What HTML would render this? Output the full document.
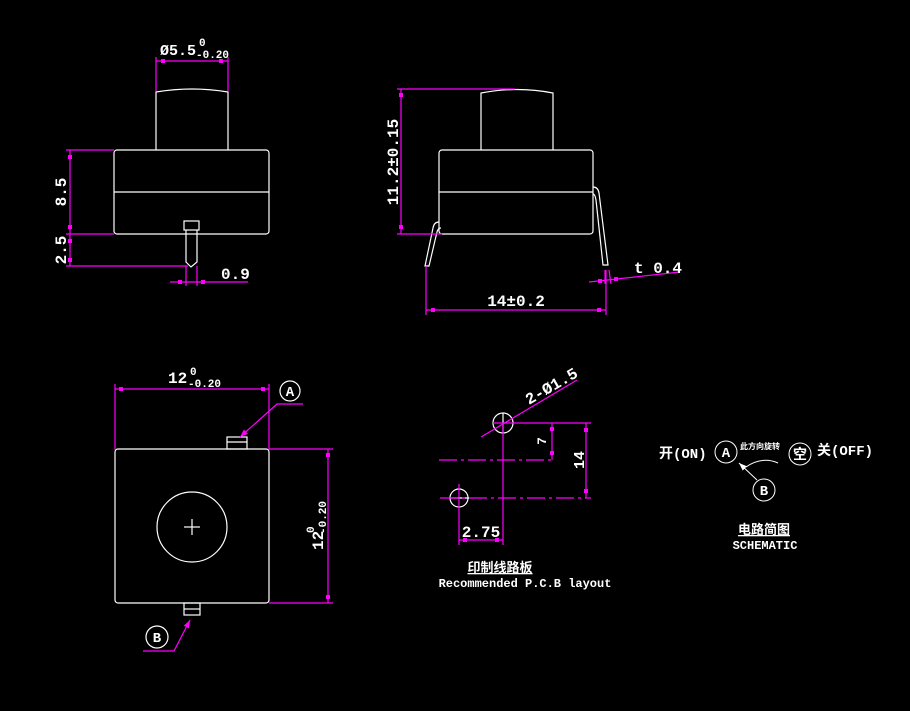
<!DOCTYPE html>
<html><head><meta charset="utf-8"><style>
html,body{margin:0;padding:0;background:#000;}
svg{display:block}
text{font-family:"Liberation Mono","Noto Sans CJK SC",monospace;fill:#fff;font-weight:bold;}
</style></head><body>
<svg width="910" height="711" viewBox="0 0 910 711" xmlns="http://www.w3.org/2000/svg">
<rect width="910" height="711" fill="#000"/>
<defs>
<marker id="ar" markerWidth="8" markerHeight="6" refX="8" refY="3" orient="auto" markerUnits="userSpaceOnUse"><path d="M0,0L8,3L0,6z" fill="#f0f"/></marker>
<marker id="aw" markerWidth="8" markerHeight="6" refX="8" refY="3" orient="auto" markerUnits="userSpaceOnUse"><path d="M0,0L8,3L0,6z" fill="#fff"/></marker>
</defs>

<!-- VIEW 1 -->
<g stroke="#fff" fill="none" stroke-width="1.2">
<path d="M156,150V92Q192,86 228,92V150"/>
<rect x="114" y="150" width="155" height="84" rx="3"/>
<line x1="114" y1="192" x2="269" y2="192"/>
<rect x="184" y="221" width="15" height="9"/>
<path d="M186,230V262L191,267L197,262V230"/>
</g>
<g stroke="#f0f" fill="none" stroke-width="1.2">
<line x1="156" y1="57" x2="156" y2="91"/><line x1="228" y1="57" x2="228" y2="91"/>
<line x1="156" y1="61" x2="228" y2="61"/>
<line x1="66" y1="150" x2="114" y2="150"/><line x1="66" y1="234" x2="114" y2="234"/><line x1="66" y1="266" x2="188" y2="266"/>
<line x1="70" y1="150" x2="70" y2="266"/>
<line x1="186" y1="266" x2="186" y2="286"/><line x1="197" y1="266" x2="197" y2="286"/>
<line x1="170" y1="282" x2="248" y2="282"/>
</g>
<g fill="#f0f"><rect x="161" y="59" width="4" height="4"/><rect x="219" y="59" width="4" height="4"/><rect x="68" y="155" width="4" height="4"/><rect x="68" y="225" width="4" height="4"/><rect x="68" y="239" width="4" height="4"/><rect x="68" y="258" width="4" height="4"/><rect x="178" y="280" width="4" height="4"/><rect x="201" y="280" width="4" height="4"/></g>
<text x="160" y="55" font-size="15">Ø5.5</text><text x="199" y="46" font-size="11">0</text><text x="196" y="58" font-size="11">-0.20</text>
<text transform="translate(66,192) rotate(-90)" font-size="16" text-anchor="middle">8.5</text>
<text transform="translate(66,250) rotate(-90)" font-size="16" text-anchor="middle">2.5</text>
<text x="221" y="279" font-size="16">0.9</text>

<!-- VIEW 2 -->
<g stroke="#fff" fill="none" stroke-width="1.2">
<path d="M481,150V93Q517,86 553,93V150"/>
<rect x="439" y="150" width="154" height="84" rx="3"/>
<line x1="439" y1="192" x2="593" y2="192"/>
<path d="M439,222Q434,222 433,228L425,266H429L437,232Q438,228 441,228"/>
<path d="M593,187Q598,187 599,193L608,265H603L596,200Q595,194 593,194"/>
</g>
<g stroke="#f0f" fill="none" stroke-width="1.2">
<line x1="397" y1="89" x2="515" y2="89"/><line x1="397" y1="234" x2="442" y2="234"/>
<line x1="401" y1="89" x2="401" y2="234"/>
<line x1="426" y1="266" x2="426" y2="315"/><line x1="606" y1="270" x2="606" y2="315"/>
<line x1="426" y1="310" x2="606" y2="310"/>
<line x1="589" y1="282" x2="680" y2="272"/>
<line x1="605" y1="270" x2="605" y2="284"/><line x1="609" y1="270" x2="611" y2="284"/>
</g>
<g fill="#f0f"><rect x="399" y="93" width="4" height="4"/><rect x="399" y="225" width="4" height="4"/><rect x="431" y="308" width="4" height="4"/><rect x="597" y="308" width="4" height="4"/><rect x="598" y="279" width="4" height="4"/><rect x="614" y="277" width="4" height="4"/></g>
<text transform="translate(398,162) rotate(-90)" font-size="16" text-anchor="middle">11.2±0.15</text>
<text x="516" y="306" font-size="16" text-anchor="middle">14±0.2</text>
<text x="634" y="273" font-size="16">t 0.4</text>

<!-- VIEW 3 -->
<g stroke="#fff" fill="none" stroke-width="1.2">
<rect x="115" y="449" width="154" height="154" rx="3"/>
<rect x="227" y="437" width="20" height="12"/><line x1="227" y1="442" x2="247" y2="442"/>
<rect x="184" y="603" width="16" height="12"/><line x1="184" y1="609" x2="200" y2="609"/>
<circle cx="192" cy="527" r="35"/>
<line x1="184" y1="527" x2="200" y2="527"/><line x1="192" y1="519" x2="192" y2="535"/>
<circle cx="290" cy="391" r="10"/><circle cx="157" cy="637" r="11"/>
</g>
<g stroke="#f0f" fill="none" stroke-width="1.2">
<line x1="115" y1="384" x2="115" y2="450"/><line x1="269" y1="384" x2="269" y2="450"/>
<line x1="115" y1="389" x2="269" y2="389"/>
<line x1="269" y1="449" x2="333" y2="449"/><line x1="269" y1="603" x2="333" y2="603"/>
<line x1="328" y1="449" x2="328" y2="603"/>
<polyline points="303,404 277,404 240,437" marker-end="url(#ar)"/>
<polyline points="143,651 174,651 190,620" marker-end="url(#ar)"/>
</g>
<g fill="#f0f"><rect x="119" y="387" width="4" height="4"/><rect x="261" y="387" width="4" height="4"/><rect x="326" y="453" width="4" height="4"/><rect x="326" y="595" width="4" height="4"/></g>
<text x="168" y="383" font-size="16">12</text><text x="190" y="375" font-size="11">0</text><text x="188" y="387" font-size="11">-0.20</text>
<text x="290" y="396" font-size="14" text-anchor="middle" font-weight="normal">A</text>
<text x="157" y="642" font-size="14" text-anchor="middle" font-weight="normal">B</text>
<text transform="translate(323,550) rotate(-90)" font-size="16">12</text>
<text transform="translate(314,533) rotate(-90)" font-size="11">0</text>
<text transform="translate(326,534) rotate(-90)" font-size="11">-0.20</text>

<!-- VIEW 4 PCB -->
<g stroke="#fff" fill="none" stroke-width="1.2">
<circle cx="503" cy="423" r="10"/><circle cx="459" cy="498" r="9"/>
<line x1="449" y1="498" x2="469" y2="498"/><line x1="503" y1="413" x2="503" y2="433"/>
</g>
<g stroke="#f0f" fill="none" stroke-width="1.2">
<line x1="493" y1="423" x2="591" y2="423"/>
<line x1="439" y1="460" x2="554" y2="460" stroke-dasharray="18,4,3,4"/>
<line x1="440" y1="498" x2="591" y2="498" stroke-dasharray="18,4,3,4"/>
<line x1="503" y1="423" x2="503" y2="545"/>
<line x1="459" y1="484" x2="459" y2="545"/>
<line x1="586" y1="423" x2="586" y2="498"/>
<line x1="552" y1="423" x2="552" y2="460"/>
<line x1="459" y1="540" x2="503" y2="540"/>
<line x1="481" y1="437" x2="577" y2="380"/>
</g>
<g fill="#f0f"><rect x="584" y="428" width="4" height="4"/><rect x="584" y="489" width="4" height="4"/><rect x="550" y="427" width="4" height="4"/><rect x="550" y="451" width="4" height="4"/><rect x="463" y="538" width="4" height="4"/><rect x="495" y="538" width="4" height="4"/></g>
<text transform="translate(584,460) rotate(-90)" font-size="15" text-anchor="middle">14</text>
<text transform="translate(546,441) rotate(-90)" font-size="13" text-anchor="middle">7</text>
<text x="481" y="537" font-size="16" text-anchor="middle">2.75</text>
<text transform="translate(529,405) rotate(-30)" font-size="16">2-Ø1.5</text>
<text x="500" y="572" font-size="13" text-anchor="middle" text-decoration="underline">印制线路板</text>
<text x="525" y="587" font-size="12" text-anchor="middle">Recommended P.C.B layout</text>

<!-- SCHEMATIC -->
<g stroke="#fff" fill="none" stroke-width="1">
<circle cx="726" cy="452" r="11"/><circle cx="800" cy="454" r="11"/><circle cx="764" cy="490" r="11"/>
<path d="M746,467Q762,456 778,463"/>
<line x1="757" y1="480" x2="739" y2="463" marker-end="url(#aw)"/>
</g>
<text x="659" y="458" font-size="14">开(ON)</text>
<text x="726" y="457" font-size="14" text-anchor="middle" font-weight="normal">A</text>
<text x="740" y="449" font-size="8">此方向旋转</text>
<text x="800" y="459" font-size="14" text-anchor="middle">空</text>
<text x="817" y="455" font-size="14">关(OFF)</text>
<text x="764" y="495" font-size="14" text-anchor="middle" font-weight="normal">B</text>
<text x="764" y="534" font-size="13" text-anchor="middle" text-decoration="underline">电路简图</text>
<text x="765" y="549" font-size="12" text-anchor="middle">SCHEMATIC</text>
</svg>
</body></html>
